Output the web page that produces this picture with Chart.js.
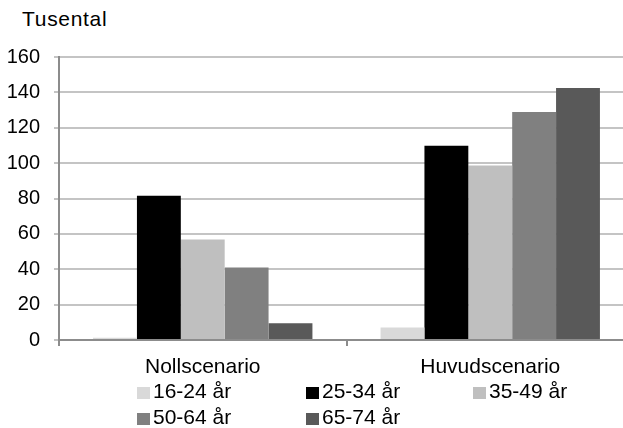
<!DOCTYPE html>
<html>
<head>
<meta charset="utf-8">
<script src="https://cdn.jsdelivr.net/npm/chart.js@4/dist/chart.umd.min.js"></script>
<style>
    html, body { margin: 0; padding: 0; background: #fff; overflow: hidden; width: 623px; height: 428px; }
    #wrap { position: relative; width: 623px; height: 428px; font-family: 'Liberation Sans', Arial, sans-serif; }
    #chart { position: absolute; left: 0; top: 0; }
    .unit { position: absolute; left: 22px; top: 8px; font-size: 21px; line-height: 21px; letter-spacing: 0.7px; color: #000; }
    .lg-box { position: absolute; width: 13px; height: 12px; }
    .lg-text { position: absolute; font-size: 21px; line-height: 21px; color: #000; white-space: nowrap; }
</style>
</head>
<body>
<div id="wrap">
    <div class="unit">Tusental</div>
    <canvas id="chart" width="634" height="428"></canvas>
    <div id="legend"></div>
</div>
<script>
// data
const categories = ['Nollscenario', 'Huvudscenario'];
const seriesLabels = ['16-24 år', '25-34 år', '35-49 år', '50-64 år', '65-74 år'];
const seriesColors = ['#d9d9d9', '#000000', '#bfbfbf', '#808080', '#595959'];
const age16_24 = [1.3, 7.0];
const age25_34 = [81.5, 109.8];
const age35_49 = [56.8, 98.7];
const age50_64 = [41.0, 128.9];
const age65_74 = [9.5, 142.5];
const yTicks = [0, 20, 40, 60, 80, 100, 120, 140, 160];

const seriesValues = [age16_24, age25_34, age35_49, age50_64, age65_74];

// legend slots: [boxLeft, rowTop]
const legendSlots = [[137, 380], [306, 380], [473, 380], [137, 406], [306, 406]];

const legend = document.getElementById('legend');
seriesLabels.forEach((lab, i) => {
    const [x, y] = legendSlots[i];
    const box = document.createElement('div');
    box.className = 'lg-box';
    box.style.left = x + 'px';
    box.style.top = (y + 7) + 'px';
    box.style.background = seriesColors[i];
    const txt = document.createElement('div');
    txt.className = 'lg-text';
    txt.style.left = (x + 16) + 'px';
    txt.style.top = y + 'px';
    txt.textContent = lab;
    legend.appendChild(box);
    legend.appendChild(txt);
});

const font = { family: "'Liberation Sans', Arial, sans-serif", size: 20 };
const axisGrey = '#8c8c8c';
const gridGrey = '#c4c4c4';

new Chart(document.getElementById('chart'), {
    type: 'bar',
    data: {
        labels: categories,
        datasets: seriesValues.map((vals, i) => ({
            label: seriesLabels[i],
            data: vals,
            backgroundColor: seriesColors[i],
            borderWidth: 0,
            categoryPercentage: 0.763,
            barPercentage: 1
        }))
    },
    options: {
        responsive: false,
        animation: false,
        layout: { padding: { top: 57, right: 0, bottom: 0, left: 0 } },
        plugins: {
            legend: { display: false },
            tooltip: { enabled: false }
        },
        scales: {
            x: {
                offset: true,
                grid: { offset: true, drawOnChartArea: false, color: axisGrey, lineWidth: 2, tickLength: 6 },
                border: { color: axisGrey, width: 2 },
                ticks: { color: '#000', font: { ...font, size: 21 }, padding: 9, maxRotation: 0 },
                afterFit: (s) => { s.height = 88; }
            },
            y: {
                min: 0,
                max: 160,
                afterBuildTicks: (s) => { s.ticks = yTicks.map(v => ({ value: v })); },
                grid: { color: gridGrey, lineWidth: 2, tickLength: 5 },
                border: { color: axisGrey, width: 2 },
                ticks: { color: '#000', font: font, padding: 14 },
                afterFit: (s) => { s.width = 59; }
            }
        }
    }
});
</script>
</body>
</html>
